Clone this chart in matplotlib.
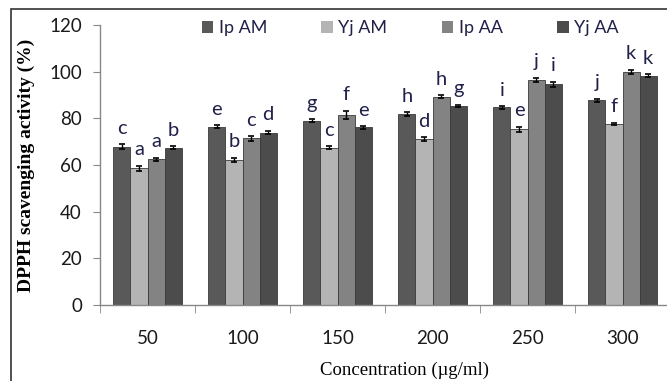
import matplotlib
matplotlib.use("Agg")
import matplotlib.pyplot as plt
import numpy as np
from matplotlib.patches import Rectangle

categories = ["50", "100", "150", "200", "250", "300"]
series = ["Ip AM", "Yj AM", "Ip AA", "Yj AA"]
ip_am = [67.9, 76.4, 79.0, 81.7, 84.7, 87.7]
yj_am = [58.6, 62.1, 67.4, 71.1, 75.3, 77.6]
ip_aa = [62.4, 71.4, 81.4, 89.3, 96.4, 100.0]
yj_aa = [67.4, 73.9, 76.1, 85.3, 94.6, 98.3]
err_ip_am = [1.0, 0.7, 0.6, 0.9, 0.5, 0.8]
err_yj_am = [1.0, 1.0, 0.7, 0.7, 1.0, 0.6]
err_ip_aa = [0.7, 1.0, 1.8, 0.6, 0.9, 0.9]
err_yj_aa = [0.6, 0.7, 0.6, 0.6, 1.0, 0.6]
letters_ip_am = ["c", "e", "g", "h", "i", "j"]
letters_yj_am = ["a", "b", "c", "d", "e", "f"]
letters_ip_aa = ["a", "c", "f", "h", "j", "k"]
letters_yj_aa = ["b", "d", "e", "g", "i", "k"]
yticks = [0, 20, 40, 60, 80, 100, 120]

values = [ip_am, yj_am, ip_aa, yj_aa]
errors = [err_ip_am, err_yj_am, err_ip_aa, err_yj_aa]
letters = [letters_ip_am, letters_yj_am, letters_ip_aa, letters_yj_aa]
colors = ["#595959", "#b4b4b4", "#838383", "#4c4c4c"]

W, H = 667, 381
fig = plt.figure(figsize=(W / 100, H / 100), dpi=100)
ax = fig.add_axes([100 / W, (H - 305) / H, 570 / W, 280 / H])

x = np.arange(len(categories))
bw = 0.18
tick_font = "Lato"
for i, (vals, errs, lets, c) in enumerate(zip(values, errors, letters, colors)):
    pos = x + (i - 1.5) * bw
    ax.bar(pos, vals, width=bw, color=c, edgecolor="#3a3a3a", linewidth=0.6,
           label=series[i], zorder=2)
    ax.errorbar(pos, vals, yerr=errs, fmt="none", ecolor="black",
                elinewidth=1.0, capsize=2.5, capthick=1.2, zorder=3)
    for p, v, e, t in zip(pos, vals, errs, lets):
        ax.text(p, v + e + 4.5, t, ha="center", va="baseline",
                fontsize=14.5, family=tick_font, color="#20204a", zorder=4)

ax.set_xlim(-0.5, len(categories) - 0.5)
ax.set_ylim(0, 120)
ax.set_yticks(yticks)
ax.set_yticklabels([str(t) for t in yticks], family=tick_font, fontsize=13.5,
                   color="#1a1a1a")
ax.set_xticks(x)
ax.set_xticklabels(categories, family=tick_font, fontsize=13.5, color="#1a1a1a")
ax.set_xticks(np.arange(-0.5, len(categories), 1.0), minor=True)
ax.tick_params(axis="x", which="major", length=0, pad=18)
ax.tick_params(axis="x", which="minor", length=6, color="#888888", direction="out")
ax.tick_params(axis="y", length=5, color="#888888", direction="out", pad=8)
for s in ["top", "right"]:
    ax.spines[s].set_visible(False)
for s in ["left", "bottom"]:
    ax.spines[s].set_color("#888888")
    ax.spines[s].set_linewidth(1.0)

ax.set_ylabel("DPPH scavenging activity (%)", family="Liberation Serif",
              fontweight="bold", fontsize=14)
ax.yaxis.set_label_coords((35 - 100) / 570, 0.5)
ax.set_xlabel("Concentration (\u00b5g/ml)", family="Liberation Serif",
              fontsize=13.5)
ax.xaxis.set_label_coords((405 - 100) / 570, -(362 - 305) / 280)

handles = [Rectangle((0, 0), 1, 1, facecolor=c, edgecolor="none") for c in colors]
leg = ax.legend(handles, series, ncol=4, loc="center", frameon=False,
                bbox_to_anchor=((410 - 100) / 570, 1 - 3 / 280),
                prop={"family": tick_font, "size": 13},
                handlelength=0.65, handleheight=0.65, handletextpad=0.3,
                columnspacing=3.0)
for t in leg.get_texts():
    t.set_color("#20204a")

border = Rectangle((11 / W, -0.1), 1.2, (H - 9) / H + 0.1,
                   transform=fig.transFigure, fill=False,
                   edgecolor="#333333", linewidth=1.2, clip_on=False)
fig.patches.append(border)

fig.savefig("out.png", dpi=100)
